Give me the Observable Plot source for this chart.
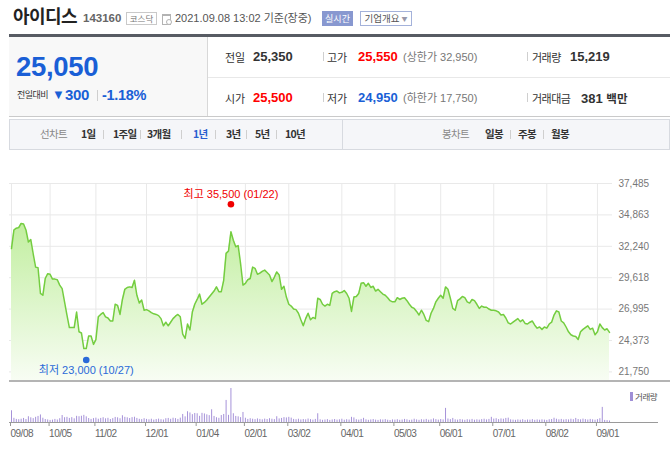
<!DOCTYPE html>
<html><head><meta charset="utf-8">
<script src="https://cdn.jsdelivr.net/npm/d3@7"></script>
<script src="https://cdn.jsdelivr.net/npm/@observablehq/plot@0.6"></script>
<style>
html,body{margin:0;padding:0;background:#fff;}
body{width:670px;height:457px;position:relative;overflow:hidden;font-family:"Liberation Sans","Noto Sans CJK KR",sans-serif;color:#333;}
.t{position:absolute;white-space:nowrap;}
.kr{font-family:"Noto Sans CJK KR","Liberation Sans",sans-serif;}
.box{position:absolute;box-sizing:border-box;text-align:center;white-space:nowrap;font-family:"Noto Sans CJK KR",sans-serif;}
.ln{position:absolute;}
.sep{position:absolute;width:1px;height:9px;background:#cfcfcf;}
.tab{position:absolute;white-space:nowrap;top:126px;line-height:16px;font-size:10.5px;font-weight:bold;color:#333;font-family:"Noto Sans CJK KR",sans-serif;letter-spacing:-0.7px;}
#price,#vol{position:absolute;left:0;}
#price{top:150px;} #vol{top:382px;}
</style></head><body>

<!-- header -->
<div class="t kr" style="left:13px;top:4px;font-size:18px;line-height:23px;font-weight:bold;color:#222;letter-spacing:-0.6px;">아이디스</div>
<div class="t" style="left:83px;top:10px;font-size:11.5px;line-height:17px;font-weight:bold;color:#666;">143160</div>
<div class="box" style="left:126px;top:12px;width:31px;height:13px;border:1px solid #c9c9c9;font-size:8.5px;line-height:11px;color:#777;">코스닥</div>
<div class="ln" style="left:162px;top:14px;width:7px;height:8px;border:1px solid #b3b3b3;border-top-width:2px;"></div>
<div class="ln" style="left:166px;top:19px;width:4px;height:4px;border-radius:3px;background:#fff;border:1px solid #b3b3b3;"></div>
<div class="t" style="left:175px;top:10px;font-size:11px;line-height:17px;color:#555;">2021.09.08 13:02 기준(장중)</div>
<div class="box" style="left:322px;top:11px;width:31px;height:15px;background:#8898d0;color:#fff;font-size:9px;line-height:15px;">실시간</div>
<div class="box" style="left:360px;top:11px;width:52px;height:15px;border:1px solid #a4b2da;color:#555;font-size:9.5px;line-height:13px;">기업개요 <span style="font-size:6px;color:#99a;vertical-align:1px;">▼</span></div>
<div class="ln" style="left:9px;top:34px;width:661px;height:3px;background:#575b63;"></div>

<!-- info panel -->
<div class="ln" style="left:9px;top:37px;width:198px;height:79px;background:#f8f8f8;border-right:1px solid #d8d8d8;"></div>
<div class="ln" style="left:208px;top:77px;width:462px;height:1px;background:#e8e8e8;"></div>
<div class="ln" style="left:9px;top:116px;width:661px;height:1px;background:#cacaca;"></div>
<div class="t" style="left:16px;top:52px;font-size:27.5px;line-height:30px;font-weight:bold;color:#1a5fd6;letter-spacing:-0.3px;">25,050</div>
<div class="t kr" style="left:17px;top:87px;font-size:9px;line-height:16px;color:#333;letter-spacing:-0.5px;">전일대비</div>
<div class="t" style="left:52px;top:86px;font-size:13px;line-height:18px;color:#1a5fd6;">▼</div>
<div class="t" style="left:65px;top:86px;font-size:15px;line-height:18px;font-weight:bold;color:#1a5fd6;letter-spacing:-0.3px;">300</div>
<div class="sep" style="left:97px;top:90px;height:11px;"></div>
<div class="t" style="left:102px;top:86px;font-size:14.5px;line-height:18px;font-weight:bold;color:#1a5fd6;letter-spacing:-0.3px;">-1.18%</div>

<div class="t kr" style="left:225px;top:49px;font-size:11px;line-height:16px;color:#333;">전일</div>
<div class="t" style="left:253px;top:49px;font-size:13px;line-height:16px;font-weight:bold;color:#333;">25,350</div>
<div class="sep" style="left:323px;top:52px;"></div>
<div class="t kr" style="left:327px;top:49px;font-size:11px;line-height:16px;color:#333;">고가</div>
<div class="t" style="left:358px;top:49px;font-size:13px;line-height:16px;font-weight:bold;color:#f00;">25,550</div>
<div class="t" style="left:403px;top:49px;font-size:11px;line-height:16px;color:#777;">(상한가 32,950)</div>
<div class="sep" style="left:527px;top:52px;"></div>
<div class="t kr" style="left:532px;top:49px;font-size:11px;line-height:16px;color:#333;letter-spacing:-0.5px;">거래량</div>
<div class="t" style="left:570px;top:49px;font-size:13px;line-height:16px;font-weight:bold;color:#333;">15,219</div>

<div class="t kr" style="left:225px;top:90px;font-size:11px;line-height:16px;color:#333;">시가</div>
<div class="t" style="left:253px;top:90px;font-size:13px;line-height:16px;font-weight:bold;color:#f00;">25,500</div>
<div class="sep" style="left:323px;top:93px;"></div>
<div class="t kr" style="left:327px;top:90px;font-size:11px;line-height:16px;color:#333;">저가</div>
<div class="t" style="left:358px;top:90px;font-size:13px;line-height:16px;font-weight:bold;color:#1a5fd6;">24,950</div>
<div class="t" style="left:403px;top:90px;font-size:11px;line-height:16px;color:#777;">(하한가 17,750)</div>
<div class="sep" style="left:527px;top:93px;"></div>
<div class="t kr" style="left:532px;top:90px;font-size:11px;line-height:16px;color:#333;letter-spacing:-0.5px;">거래대금</div>
<div class="t" style="left:581px;top:90px;font-size:13px;line-height:16px;font-weight:bold;color:#333;">381 <span class="kr" style="font-size:11.5px;">백만</span></div>

<!-- tab bar -->
<div class="ln" style="left:9px;top:119px;width:661px;height:31px;box-sizing:border-box;background:#f5f6f9;border:1px solid #d7dae0;"></div>
<div class="ln" style="left:342px;top:120px;width:1px;height:29px;background:#d7dae0;"></div>
<div class="tab" style="left:40px;color:#888;font-weight:normal;">선차트</div>
<div class="tab" style="left:81px;">1일</div><div class="sep" style="left:103px;top:130px;"></div>
<div class="tab" style="left:113px;">1주일</div><div class="sep" style="left:140px;top:130px;"></div>
<div class="tab" style="left:147px;">3개월</div><div class="sep" style="left:181px;top:130px;"></div>
<div class="tab" style="left:193px;color:#2a5fd0;">1년</div><div class="sep" style="left:215px;top:130px;"></div>
<div class="tab" style="left:226px;">3년</div><div class="sep" style="left:246px;top:130px;"></div>
<div class="tab" style="left:255px;">5년</div><div class="sep" style="left:276px;top:130px;"></div>
<div class="tab" style="left:285px;">10년</div>
<div class="tab" style="left:442px;color:#888;font-weight:normal;">봉차트</div>
<div class="tab" style="left:485px;">일봉</div><div class="sep" style="left:510px;top:130px;"></div>
<div class="tab" style="left:518px;">주봉</div><div class="sep" style="left:543px;top:130px;"></div>
<div class="tab" style="left:551px;">월봉</div>

<div id="price"></div>
<div id="vol"></div>
<div class="ln" style="left:9px;top:380px;width:661px;height:2px;background:#b4b4b4;"></div>
<div class="ln" style="left:630px;top:392px;width:3px;height:9px;background:#9f8fd6;"></div>
<div class="t kr" style="left:635px;top:389px;font-size:8.5px;line-height:14px;color:#555;letter-spacing:-0.4px;">거래량</div>

<script>
// ---- data ----
const holidays = ["2020-09-30","2020-10-01","2020-10-02","2020-10-09","2020-12-25","2020-12-31",
  "2021-01-01","2021-02-11","2021-02-12","2021-03-01","2021-05-05","2021-05-19","2021-08-16"];
const tickDates = ["2020-09-08","2020-10-05","2020-11-02","2020-12-01","2021-01-04","2021-02-01",
  "2021-03-02","2021-04-01","2021-05-03","2021-06-01","2021-07-01","2021-08-02","2021-09-01"];
const priceTicks = [21750, 24373, 26995, 29618, 32240, 34863, 37485];
const prices = [
  32050,33600,33750,33800,34150,34100,33600,32600,32800,31600,
  30500,30450,28300,28150,29550,29950,29900,29500,29500,29450,
  29000,28700,27600,26500,25450,25450,25450,26750,25100,25000,
  23700,23700,24750,24750,24050,24450,26350,26550,26700,26350,
  26250,26000,26000,27400,27300,26550,27800,28650,28800,28850,
  28800,29400,28150,27500,27750,26900,26950,26850,26700,26600,
  26550,26450,26200,25600,25900,25600,25900,26200,26400,26550,
  26350,24900,24550,25750,25250,26750,27400,27800,28250,27400,
  27550,27750,28000,28250,28500,28850,28450,28450,29400,31650,
  31850,33450,32750,32200,32300,30800,29000,29150,29450,29550,
  30500,30400,29900,30000,30150,30250,30050,29850,29300,29650,
  30100,29850,28650,28900,28000,27400,27250,27000,26950,26650,
  26100,25600,26200,26650,26100,26300,26200,27900,27800,27400,
  27250,27400,27300,28300,28450,28500,28350,28400,28550,28300,
  27900,26800,28000,28050,28300,29150,29200,28900,29150,28800,
  28900,28500,28650,28450,28250,28150,27950,27700,27600,27600,
  27950,27800,27900,27950,27700,27400,27150,27050,26800,26500,
  26900,26550,26050,25950,26650,27050,27600,27900,28150,27900,
  28850,28650,27900,27050,26900,27700,27850,28050,27950,27600,
  27500,27800,27700,27400,27050,27250,27150,27150,27000,26900,
  26900,26850,26750,26500,26550,26250,25850,25750,25900,26050,
  26200,25950,26100,25800,25750,25900,26000,25650,25400,25500,
  25300,25500,25400,25750,25900,26500,26850,26750,26000,25850,
  25500,25100,24850,24750,24700,24450,25100,25300,25450,25600,
  25300,25400,24850,25100,25750,25450,25250,25350,25050];
const volumes = [
  118000,42000,31000,28000,33000,41000,30000,58000,47000,39000,
  52000,61000,76000,43000,30000,26000,21000,24000,31000,25000,
  38000,70000,48000,52000,41000,49000,37000,62000,58000,63000,
  72000,57000,40000,31000,39000,44000,33000,41000,48000,37000,
  42000,30000,39000,51000,47000,38000,68000,52000,47000,40000,
  49000,53000,41000,32000,29000,38000,31000,27000,33000,24000,
  30000,34000,28000,25000,38000,41000,32000,43000,39000,31000,
  44000,81000,57000,108000,96000,79000,91000,88000,62000,92000,
  86000,77000,69000,128000,61000,48000,42000,70000,81000,222000,
  72000,342000,88000,61000,57000,49000,101000,43000,31000,38000,
  33000,29000,36000,31000,27000,34000,30000,38000,33000,29000,
  58000,36000,41000,49000,46000,52000,44000,31000,28000,33000,
  26000,30000,27000,35000,29000,24000,31000,88000,27000,22000,
  25000,29000,21000,26000,30000,24000,27000,33000,23000,28000,
  25000,52000,46000,28000,24000,31000,42000,27000,22000,26000,
  30000,24000,21000,27000,25000,29000,23000,20000,26000,24000,
  28000,22000,25000,31000,27000,21000,24000,33000,26000,22000,
  28000,25000,31000,23000,27000,36000,29000,24000,30000,26000,
  142000,35000,29000,41000,27000,24000,30000,26000,22000,28000,
  25000,31000,23000,27000,24000,29000,33000,26000,31000,52000,
  34000,38000,29000,36000,33000,41000,44000,27000,24000,22000,
  26000,23000,28000,21000,25000,24000,29000,22000,26000,23000,
  27000,24000,21000,28000,30000,43000,33000,27000,31000,25000,
  29000,26000,33000,28000,41000,30000,27000,34000,29000,25000,
  31000,27000,23000,29000,38000,152000,21000,19000,15219];
const extremes = [
  {kind: "최고", date: "2021-01-22", value: 35500, color: "#f00000"},
  {kind: "최저", date: "2020-10-27", value: 23000, color: "#2a6ad8"}
];

// ---- build ----
const iso = d3.utcFormat("%Y-%m-%d");
const md = d3.utcFormat("%m/%d");
const days = d3.utcDay.range(new Date("2020-09-08T00:00Z"), new Date("2021-09-09T00:00Z"))
  .filter(d => d.getUTCDay() % 6 !== 0 && !holidays.includes(iso(d)));
const isoDays = days.map(iso);
const data = prices.map((p, i) => ({i, date: days[i], price: p, vol: volumes[i]}));
const tickIdx = tickDates.map(s => isoDays.indexOf(s));
const ext = extremes.map(e => {
  const i = isoDays.indexOf(e.date);
  return {...e, i, label: `${e.kind} ${d3.format(",")(e.value)} (${md(days[i])})`};
});
const hi = ext.filter(e => e.kind === "최고"), lo = ext.filter(e => e.kind === "최저");
const n = prices.length;
const font = "'Liberation Sans','Noto Sans CJK KR',sans-serif";

const H = 233, mT = 33, mB = 2;
const yTop = 37485, yStepPx = (priceTicks[6] - priceTicks[0]) / 188.4;
const yBottom = yTop - (H - mT - mB) * yStepPx;

const price = Plot.plot({
  width: 670, height: H, marginTop: mT, marginBottom: mB, marginLeft: 9, marginRight: 58,
  style: {fontFamily: font, fontSize: "10px", background: "transparent", overflow: "visible", color: "#777"},
  x: {type: "linear", domain: [0, n - 1], range: [11, 609], axis: null},
  y: {domain: [yBottom, yTop], label: null, axis: null},
  marks: [
    Plot.ruleY(priceTicks, {stroke: "#e9e9e9", strokeWidth: 1}),
    Plot.ruleX(tickIdx, {stroke: "#e9e9e9", strokeWidth: 1}),
    Plot.areaY(data, {x: "i", y1: yBottom, y2: "price", fill: "url(#pgrad)"}),
    Plot.lineY(data, {x: "i", y: "price", stroke: "#74cd40", strokeWidth: 1.5}),
    Plot.axisY(priceTicks, {anchor: "right", tickSize: 0, tickPadding: 6, tickFormat: d3.format(","), label: null, fill: "#777"}),
    Plot.dot(hi, {x: "i", y: "value", r: 3.3, fill: "color", dy: -3}),
    Plot.text(hi, {x: "i", y: "value", text: "label", fill: "color", dy: -13, fontSize: 11}),
    Plot.dot(lo, {x: "i", y: "value", r: 3.3, fill: "color", dy: 3}),
    Plot.text(lo, {x: "i", y: "value", text: "label", fill: "color", dy: 14, fontSize: 11})
  ]
});
d3.select(price).insert("defs", ":first-child").html(
  '<linearGradient id="pgrad" gradientUnits="userSpaceOnUse" x1="0" y1="40" x2="0" y2="231">' +
  '<stop offset="0" stop-color="#b6eb8e"/><stop offset="1" stop-color="#f8fdf4"/></linearGradient>');
document.getElementById("price").appendChild(price);

const vol = Plot.plot({
  width: 670, height: 75, marginTop: 6, marginBottom: 35, marginLeft: 9, marginRight: 12,
  style: {fontFamily: font, fontSize: "10px", background: "transparent", overflow: "visible", color: "#999"},
  x: {type: "linear", domain: [0, n - 1], range: [11, 609], axis: null},
  y: {domain: [0, d3.max(volumes)], axis: null},
  marks: [
    Plot.ruleX(data, {x: "i", y1: 0, y2: "vol", stroke: "#a692d9", strokeWidth: 1}),
    Plot.ruleY([0], {stroke: "#9a9a9a", strokeWidth: 1.2}),
    Plot.axisX(tickIdx, {tickSize: 4, tickPadding: 3, tickFormat: i => md(days[i]), textAnchor: "start", dx: -1,
      fill: "#666", stroke: "#999", label: null})
  ]
});
d3.select(vol).selectAll("text").style("letter-spacing", "-0.5px");
document.getElementById("vol").appendChild(vol);
</script>
</body></html>
